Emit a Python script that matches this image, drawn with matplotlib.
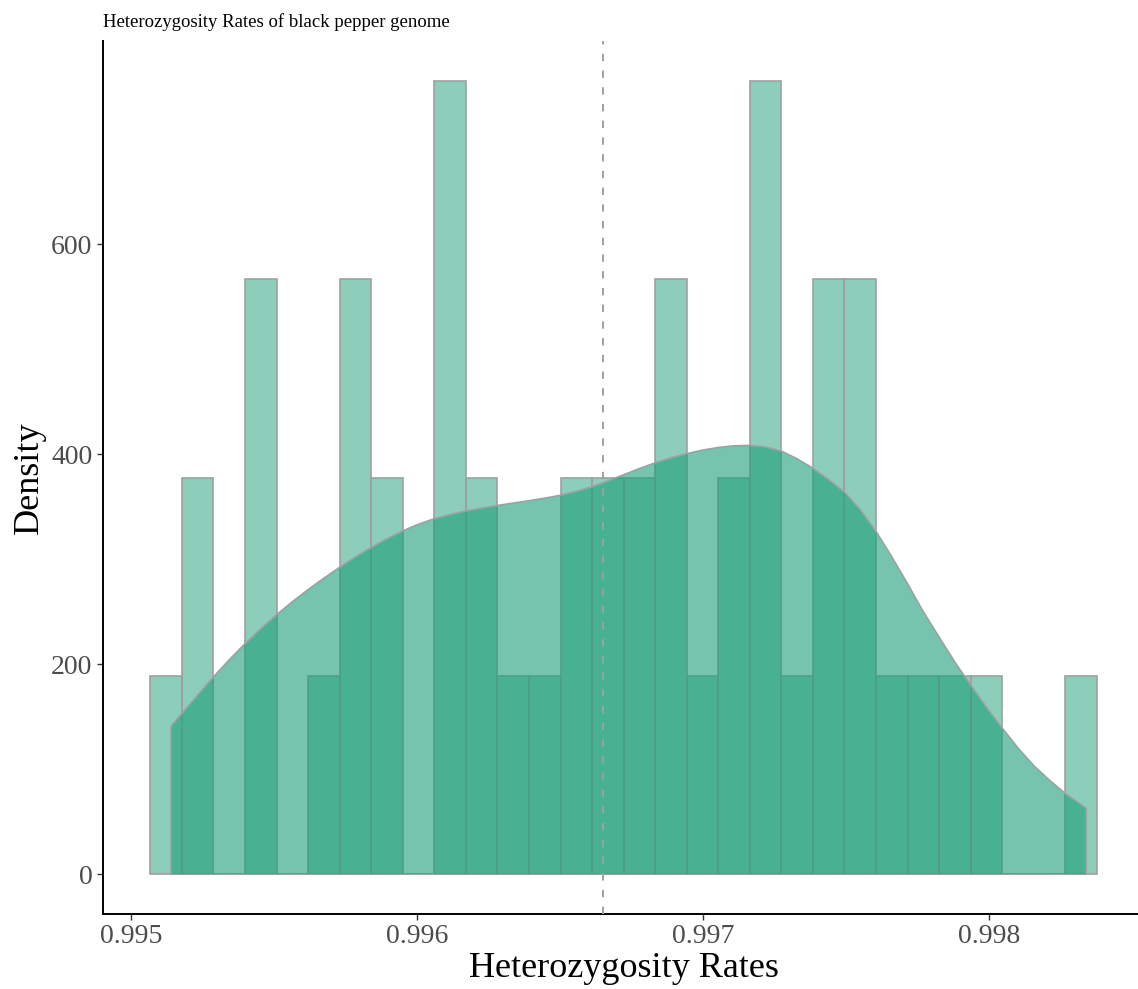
import matplotlib
matplotlib.use("Agg")
import matplotlib.pyplot as plt
import numpy as np

plt.rcParams['font.family'] = ['Liberation Serif', 'DejaVu Serif']

# histogram: 30 bins, counts per bin (n = 48)
bin_start = 0.9950684
bin_width = 0.00011027
counts = [1, 2, 0, 3, 0, 1, 3, 2, 0, 4,
          2, 1, 1, 2, 2, 2, 3, 1, 2, 4,
          1, 3, 3, 1, 1, 1, 1, 0, 0, 1]

# kernel density estimate of the same rates
kde_x = [0.9951407, 0.9951966, 0.9952524, 0.9952908, 0.9953432, 0.9953991,
         0.9954550, 0.9955108, 0.9955667, 0.9956191, 0.9956749, 0.9957308,
         0.9957867, 0.9958390, 0.9958949, 0.9959508, 0.9960066, 0.9960590,
         0.9961149, 0.9961708, 0.9962266, 0.9962825, 0.9963349, 0.9963907,
         0.9964466, 0.9965024, 0.9965548, 0.9966107, 0.9966665, 0.9967224,
         0.9967783, 0.9968341, 0.9968865, 0.9969424, 0.9969983, 0.9970541,
         0.9971065, 0.9971624, 0.9972182, 0.9972741, 0.9973265, 0.9973824,
         0.9974382, 0.9974941, 0.9975500, 0.9976059, 0.9976582, 0.9977141,
         0.9977699, 0.9978293, 0.9978852, 0.9979385, 0.9979934, 0.9980492,
         0.9981017, 0.9981574, 0.9982133, 0.9982658, 0.9983389]
kde_y = [141, 159, 176.5, 188.5, 204, 219.5, 234, 247.5, 260, 271, 282, 292.5,
         302.5, 311, 319.5, 327, 333.5, 338.5, 342.5, 346, 348.8, 351.3, 353.5,
         355.7, 358.2, 361, 364.5, 369, 374.5, 380.5, 386.5, 392, 396.5, 400.5,
         404, 406.5, 408, 408.5, 407, 403, 396, 387, 376, 364, 347, 326, 303,
         277, 250, 224, 200, 179, 158, 138, 120, 103, 89, 77, 63]

mean_rate = 0.9966502

fill_col = '#1b9e77'
edge_col = '#a0a0a0'

counts = np.array(counts)
n = counts.sum()
edges = bin_start + bin_width * np.arange(len(counts) + 1)
dens = counts / (n * bin_width)

fig = plt.figure(figsize=(11.38, 9.89), dpi=100)
ax = fig.add_axes([0.0905, 0.0758, 0.915, 0.8827])

ax.bar(edges[:-1], dens, width=bin_width, align='edge', color=fill_col,
       alpha=0.5, edgecolor='none', zorder=2)
ax.bar(edges[:-1], dens, width=bin_width, align='edge', fill=False,
       edgecolor=edge_col, linewidth=1.2, zorder=2)

kx = np.array(kde_x)
ky = np.array(kde_y)
px = np.concatenate([[kx[0]], kx, [kx[-1]]])
py = np.concatenate([[0], ky, [0]])
ax.fill(px, py, facecolor=fill_col, alpha=0.6, edgecolor='none', zorder=3)
ax.plot(px, py, color=edge_col, linewidth=1.2, zorder=4)

ax.axvline(mean_rate, color=edge_col, linewidth=1.4,
           linestyle=(0, (3.8, 4.8)), zorder=5)

# ggplot-like 5% expansion
lo = min(edges[0], kx[0])
hi = max(edges[-1], kx[-1])
pad = (hi - lo) * 0.05
ax.set_xlim(lo - pad, hi + pad)
ytop = dens.max()
ax.set_ylim(-ytop * 0.05, ytop * 1.05)

ax.set_xticks([0.995, 0.996, 0.997, 0.998])
ax.set_xticklabels(['0.995', '0.996', '0.997', '0.998'])
ax.set_yticks([0, 200, 400, 600])

for s in ['top', 'right']:
    ax.spines[s].set_visible(False)
for s in ['left', 'bottom']:
    ax.spines[s].set_linewidth(1.4)
ax.tick_params(axis='both', labelsize=20, labelcolor='#4d4d4d',
               length=4, width=1.0, color='#333333')

ax.set_xlabel('Heterozygosity Rates', fontsize=26, labelpad=2)
ax.set_ylabel('Density', fontsize=26, labelpad=4)
ax.set_title('Heterozygosity Rates of black pepper genome', loc='left',
             fontsize=13.5, pad=10)

fig.savefig('out.png', dpi=100)
